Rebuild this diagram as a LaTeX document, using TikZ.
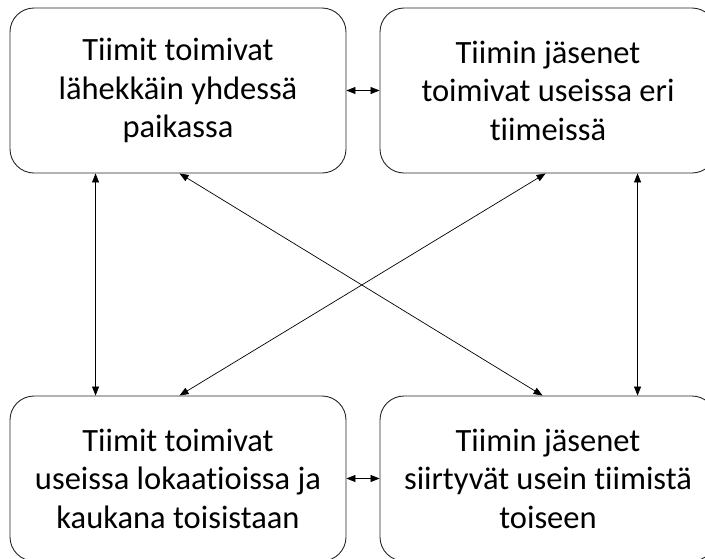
\documentclass[tikz,border=0pt]{standalone}
\usepackage{fontspec}
\setmainfont{Carlito}[Ligatures={NoCommon}]
\usetikzlibrary{arrows.meta}
\begin{document}
\begin{tikzpicture}[x=1pt,y=-1pt,
  box/.style={draw=black!85, line width=0.9pt, rounded corners=24pt,
    minimum width=336pt, minimum height=165pt, align=center,
    font=\fontsize{32.5}{38.5}\selectfont, inner sep=0pt},
  link/.style={line width=0.7pt, {Triangle[length=9pt,width=7pt]}-{Triangle[length=9pt,width=7pt]}}]
  \useasboundingbox (0,0) rectangle (705,558);
  \clip (0,0) rectangle (705,558);
  % the four situations
  \node[box] (tl) at (178,90.5) {Tiimit toimivat\\lähekkäin yhdessä\\paikassa};
  \node[box] (tr) at (548,90.5) {Tiimin jäsenet\\toimivat useissa eri\\tiimeissä};
  \node[box] (bl) at (178,478.5) {Tiimit toimivat\\useissa lokaatioissa ja\\kaukana toisistaan};
  \node[box] (br) at (548,478.5) {Tiimin jäsenet\\siirtyvät usein tiimistä\\toiseen};
  % horizontal links
  \draw[link] (tl.east) -- (tr.west);
  \draw[link] (bl.east) -- (br.west);
  % vertical links
  \draw[link] ([xshift=86pt]tl.south west) -- ([xshift=86pt]bl.north west);
  \draw[link] ([xshift=258pt]tr.south west) -- ([xshift=258pt]br.north west);
  % diagonal links
  \draw[link] ([xshift=170pt]tl.south west) -- ([xshift=163pt]br.north west);
  \draw[link] ([xshift=166pt]tr.south west) -- ([xshift=170pt]bl.north west);
\end{tikzpicture}
\end{document}
